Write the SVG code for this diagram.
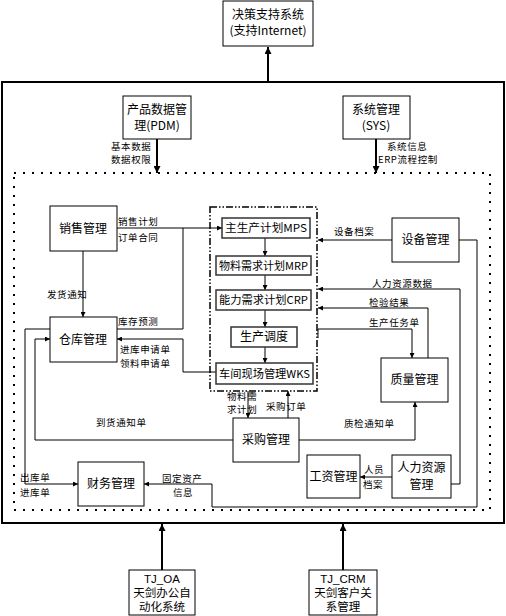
<svg xmlns="http://www.w3.org/2000/svg" width="506" height="616" viewBox="0 0 506 616">
<defs>
<style>
text{font-family:"Noto Sans CJK SC","Liberation Sans",sans-serif;fill:#000}
.t{font-size:12px;text-anchor:middle}
.i{font-size:11px;text-anchor:middle}
.b{font-family:"Liberation Sans","Noto Sans CJK SC",sans-serif;font-size:11.5px;text-anchor:middle}
.s{font-size:9.5px;letter-spacing:0.6px}
.box{fill:#fff;stroke:#000;stroke-width:1}
.ibox{fill:#fff;stroke:#333;stroke-width:1.5}
.ln{fill:none;stroke:#000;stroke-width:1}
.th{fill:none;stroke:#000;stroke-width:2}
</style>
<marker id="a" viewBox="0 0 10 10" refX="10" refY="5" markerWidth="5" markerHeight="5" orient="auto" markerUnits="userSpaceOnUse"><path d="M0,0L10,5L0,10z" fill="#000"/></marker>
<marker id="b" viewBox="0 0 10 10" refX="10" refY="5" markerWidth="9" markerHeight="7" orient="auto" markerUnits="userSpaceOnUse"><path d="M0,0L10,5L0,10z" fill="#000"/></marker>
</defs>
<rect width="506" height="616" fill="#fff"/>

<g id="frames">
<rect x="2" y="82" width="502" height="441" fill="none" stroke="#000" stroke-width="2"/>
<rect x="14" y="173" width="476" height="337" fill="none" stroke="#000" stroke-width="2" stroke-dasharray="2 7"/>
<rect x="210" y="207" width="107" height="184" fill="none" stroke="#000" stroke-width="1.5" stroke-dasharray="7 2 1.5 2 1.5 2"/>
</g>

<g id="connectors">
<path class="th" d="M268,82V47" marker-end="url(#b)"/>
<path class="th" d="M157,139V173" marker-end="url(#b)"/>
<path class="th" d="M376,139V173" marker-end="url(#b)"/>
<path class="th" d="M162,570V524" marker-end="url(#b)"/>
<path class="th" d="M343,570V524" marker-end="url(#b)"/>

<path class="ln" d="M117,228H222" marker-end="url(#a)"/>
<path class="ln" d="M183,228V329H117"/>
<path class="ln" d="M83,251V317" marker-end="url(#a)"/>
<path class="ln" d="M216,372H183V339H117" marker-end="url(#a)"/>
<path class="ln" d="M50,329H25V484H78" marker-end="url(#a)"/>
<path class="ln" d="M233,440H35V339H50" marker-end="url(#a)"/>

<path class="ln" d="M265,238V256" marker-end="url(#a)"/>
<path class="ln" d="M265,275V290" marker-end="url(#a)"/>
<path class="ln" d="M265,310V327" marker-end="url(#a)"/>
<path class="ln" d="M265,347V363" marker-end="url(#a)"/>

<path class="ln" d="M392,240H318" marker-end="url(#a)"/>
<path class="ln" d="M459,240H477V507H212V484H144" marker-end="url(#a)"/>
<path class="ln" d="M451,484H460V289H318" marker-end="url(#a)"/>
<path class="ln" d="M428,358V308H318" marker-end="url(#a)"/>
<path class="ln" d="M318,338V329H412V358" marker-end="url(#a)"/>

<path class="ln" d="M248,391V418" marker-end="url(#a)"/>
<path class="ln" d="M288,418V391" marker-end="url(#a)"/>
<path class="ln" d="M299,440H415V402" marker-end="url(#a)"/>
<path class="ln" d="M392,477H360" marker-end="url(#a)"/>
</g>

<g id="dss"><rect class="box" x="223" y="1" width="90" height="45"/><text class="t" x="268" y="19">决策支持系统</text><text class="t" x="268" y="35">(支持Internet)</text></g>
<g id="pdm"><rect class="box" x="123" y="96" width="68" height="43"/><text class="t" x="157" y="114">产品数据管</text><text class="t" x="157" y="130">理(PDM)</text></g>
<g id="sys"><rect class="box" x="343" y="96" width="67" height="43"/><text class="t" x="376" y="114">系统管理</text><text class="t" x="376" y="130">(SYS)</text></g>

<g id="sales"><rect class="box" x="50" y="206" width="67" height="45"/><text class="t" x="83" y="233">销售管理</text></g>
<g id="warehouse"><rect class="box" x="50" y="317" width="67" height="45"/><text class="t" x="83" y="344">仓库管理</text></g>
<g id="finance"><rect class="box" x="78" y="462" width="66" height="44"/><text class="t" x="111" y="488">财务管理</text></g>

<g id="mps"><rect class="ibox" x="222" y="218" width="88" height="20"/><text class="i" x="266" y="232" textLength="82" lengthAdjust="spacingAndGlyphs">主生产计划MPS</text></g>
<g id="mrp"><rect class="ibox" x="216" y="256" width="95" height="19"/><text class="i" x="263.5" y="270" textLength="89" lengthAdjust="spacingAndGlyphs">物料需求计划MRP</text></g>
<g id="crp"><rect class="ibox" x="216" y="290" width="95" height="20"/><text class="i" x="263.5" y="304" textLength="89" lengthAdjust="spacingAndGlyphs">能力需求计划CRP</text></g>
<g id="dispatch"><rect class="ibox" x="231" y="327" width="66" height="20"/><text class="t" x="264" y="341">生产调度</text></g>
<g id="wks"><rect class="ibox" x="216" y="363" width="97" height="21"/><text class="i" x="264.5" y="378" textLength="91" lengthAdjust="spacingAndGlyphs">车间现场管理WKS</text></g>

<g id="equipment"><rect class="box" x="392" y="218" width="67" height="44"/><text class="t" x="425.5" y="244">设备管理</text></g>
<g id="quality"><rect class="box" x="381" y="358" width="67" height="44"/><text class="t" x="414.5" y="384">质量管理</text></g>
<g id="purchase"><rect class="box" x="233" y="418" width="66" height="44"/><text class="t" x="266" y="444">采购管理</text></g>
<g id="salary"><rect class="box" x="307" y="455" width="53" height="43"/><text class="t" x="333.5" y="481">工资管理</text></g>
<g id="hr"><rect class="box" x="392" y="455" width="59" height="43"/><text class="t" x="421.5" y="472">人力资源</text><text class="t" x="421.5" y="489">管理</text></g>

<g id="oa"><rect class="box" x="129" y="570" width="66" height="45"/><text class="b" x="162" y="583">TJ_OA</text><text class="b" x="162" y="597">天剑办公自</text><text class="b" x="162" y="611">动化系统</text></g>
<g id="crm"><rect class="box" x="309" y="570" width="68" height="45"/><text class="b" x="343" y="583">TJ_CRM</text><text class="b" x="343" y="597">天剑客户关</text><text class="b" x="343" y="611">系管理</text></g>

<g id="labels">
<text class="s" x="111" y="150">基本数据</text>
<text class="s" x="111" y="163">数据权限</text>
<text class="s" x="387" y="150">系统信息</text>
<text class="s" x="378" y="163">ERP流程控制</text>
<text class="s" x="118" y="225">销售计划</text>
<text class="s" x="118" y="241">订单合同</text>
<text class="s" x="47" y="298">发货通知</text>
<text class="s" x="118" y="325">库存预测</text>
<text class="s" x="120" y="353">进库申请单</text>
<text class="s" x="120" y="367">领料申请单</text>
<text class="s" x="334" y="235">设备档案</text>
<text class="s" x="372" y="287">人力资源数据</text>
<text class="s" x="369" y="306">检验结果</text>
<text class="s" x="369" y="326">生产任务单</text>
<text class="s" x="227" y="400">物料需</text>
<text class="s" x="227" y="413">求计划</text>
<text class="s" x="266" y="410">采购订单</text>
<text class="s" x="96" y="426">到货通知单</text>
<text class="s" x="344" y="427">质检通知单</text>
<text class="s" x="20" y="481">出库单</text>
<text class="s" x="20" y="496">进库单</text>
<text class="s" x="162" y="482">固定资产</text>
<text class="s" x="173" y="496">信息</text>
<text class="s" x="364" y="473">人员</text>
<text class="s" x="363" y="488">档案</text>
</g>
</svg>
